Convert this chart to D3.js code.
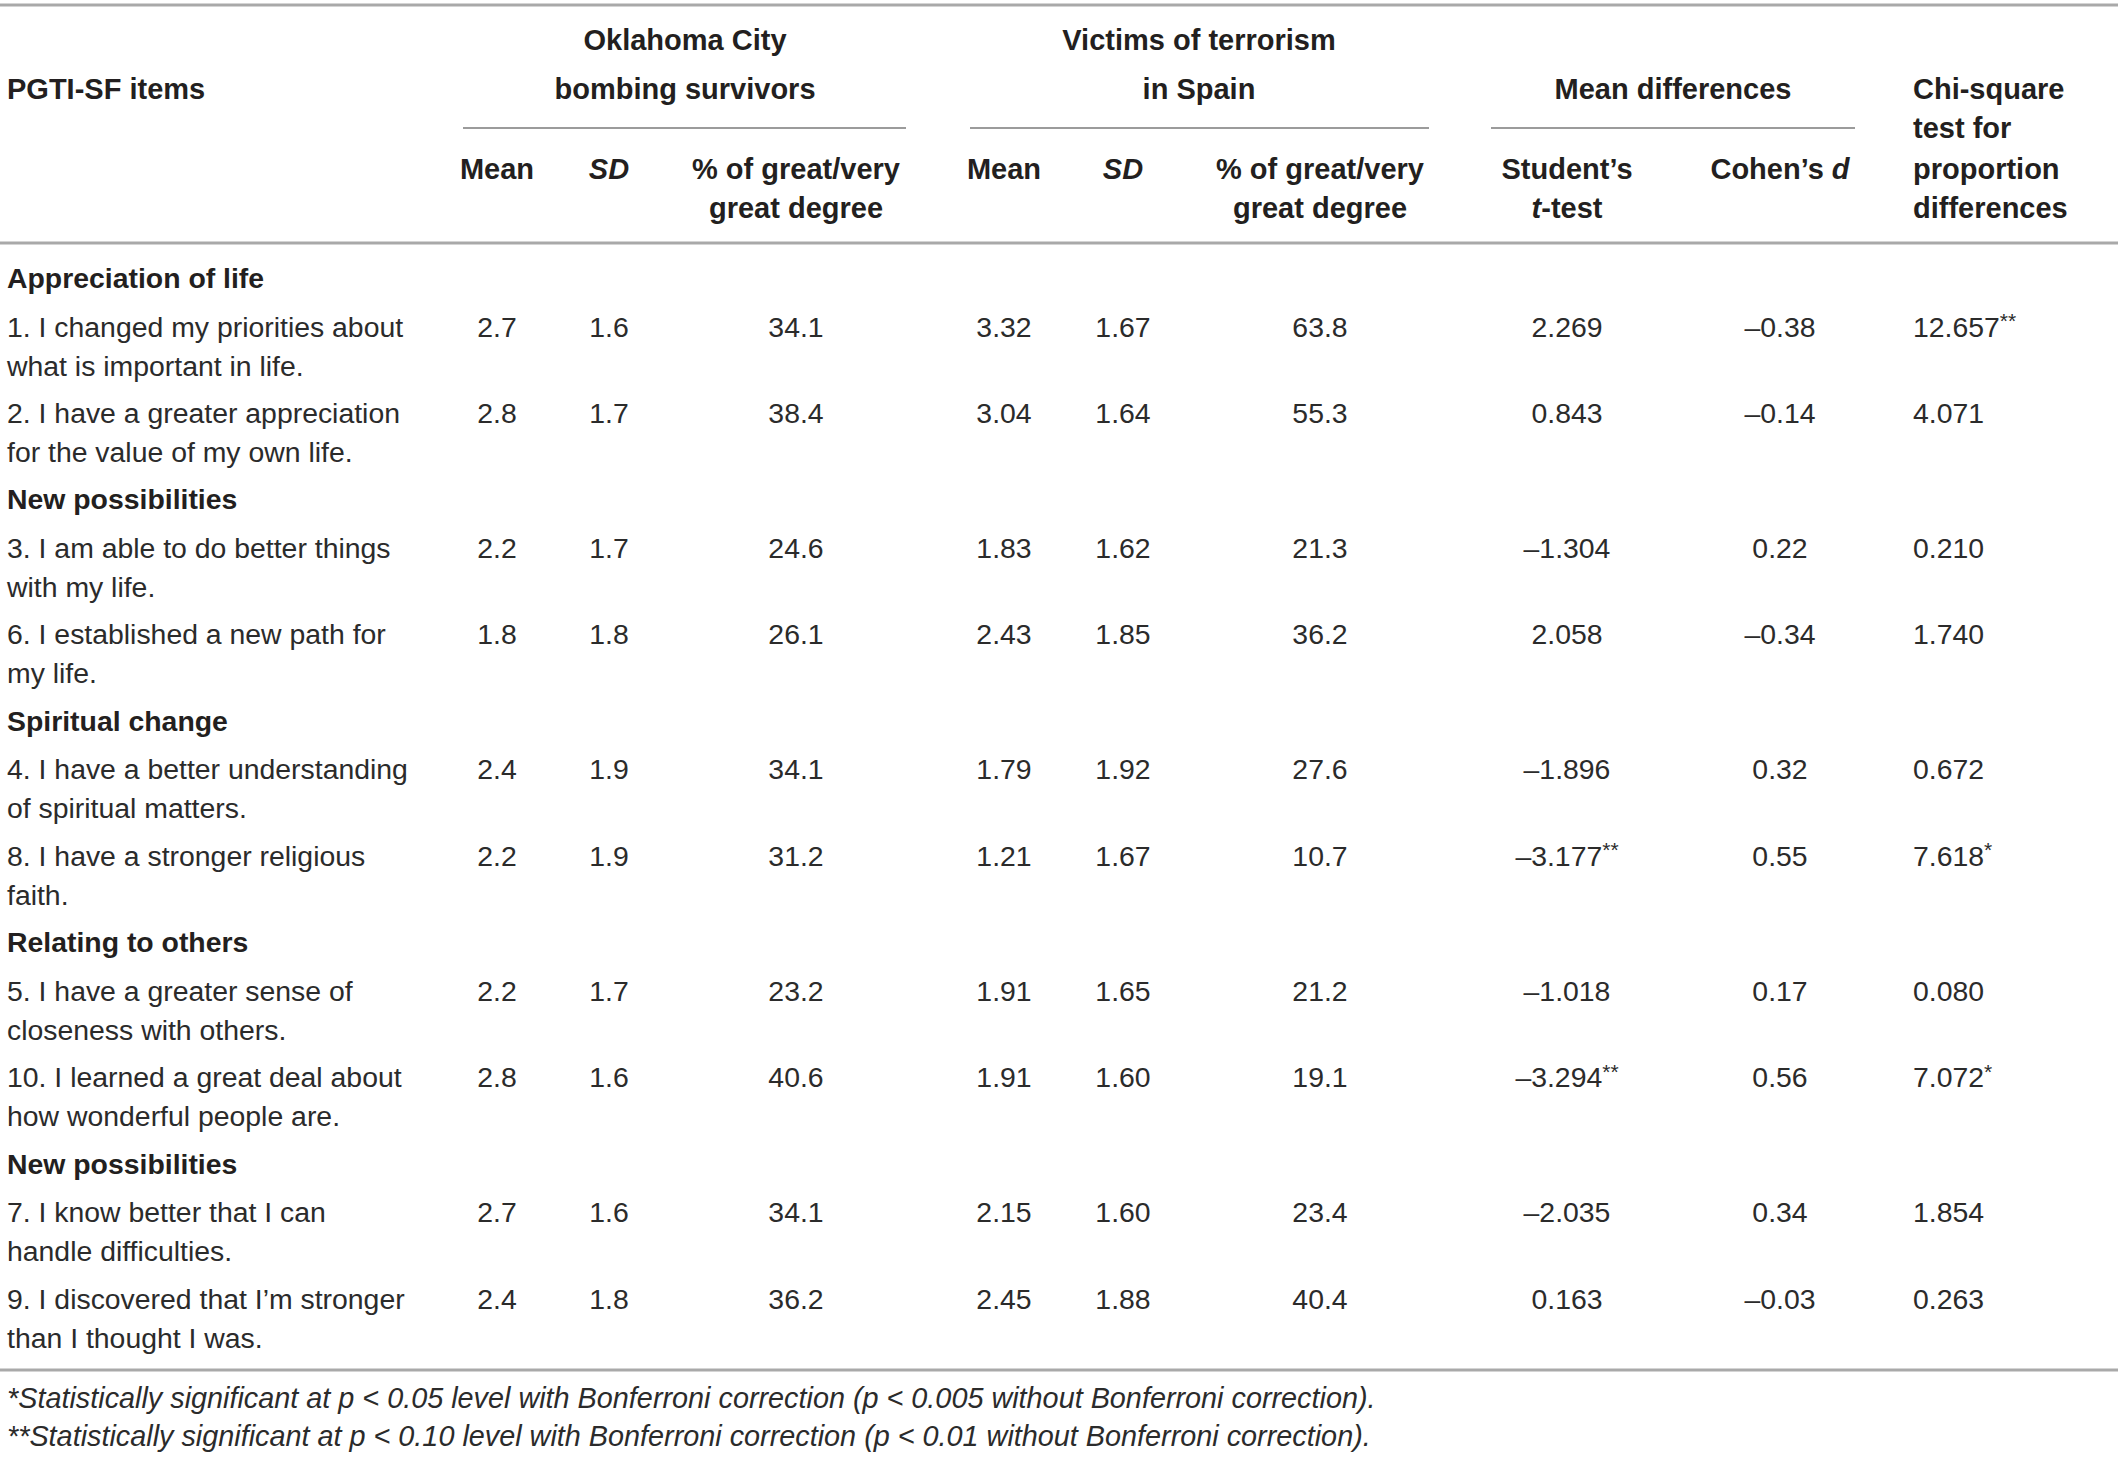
<!DOCTYPE html>
<html>
<head>
<meta charset="utf-8">
<script src="https://cdn.jsdelivr.net/npm/d3@7.9.0/dist/d3.min.js"></script>
<style>
  html, body { margin: 0; padding: 0; background: #fff; }
  svg { display: block; }
  text { font-family: "Liberation Sans", Arial, sans-serif; fill: #2b2b2b; }
  .hd { font-weight: 700; fill: #231f20; }
</style>
</head>
<body>
<div id="chart"></div>
<script>
// Table values
const groups = ["Appreciation of life", "New possibilities", "Spiritual change", "Relating to others", "New possibilities"];
const itemGroup = [0, 0, 1, 1, 2, 2, 3, 3, 4, 4];
const itemLabels = [
  ["1. I changed my priorities about", "what is important in life."],
  ["2. I have a greater appreciation", "for the value of my own life."],
  ["3. I am able to do better things", "with my life."],
  ["6. I established a new path for", "my life."],
  ["4. I have a better understanding", "of spiritual matters."],
  ["8. I have a stronger religious", "faith."],
  ["5. I have a greater sense of", "closeness with others."],
  ["10. I learned a great deal about", "how wonderful people are."],
  ["7. I know better that I can", "handle difficulties."],
  ["9. I discovered that I\u2019m stronger", "than I thought I was."]
];
const okMean = [2.7, 2.8, 2.2, 1.8, 2.4, 2.2, 2.2, 2.8, 2.7, 2.4];
const okSD = [1.6, 1.7, 1.7, 1.8, 1.9, 1.9, 1.7, 1.6, 1.6, 1.8];
const okPct = [34.1, 38.4, 24.6, 26.1, 34.1, 31.2, 23.2, 40.6, 34.1, 36.2];
const vMean = [3.32, 3.04, 1.83, 2.43, 1.79, 1.21, 1.91, 1.91, 2.15, 2.45];
const vSD = [1.67, 1.64, 1.62, 1.85, 1.92, 1.67, 1.65, 1.60, 1.60, 1.88];
const vPct = [63.8, 55.3, 21.3, 36.2, 27.6, 10.7, 21.2, 19.1, 23.4, 40.4];
const tTest = [2.269, 0.843, -1.304, 2.058, -1.896, -3.177, -1.018, -3.294, -2.035, 0.163];
const tSig = ["", "", "", "", "", "**", "", "**", "", ""];
const cohenD = [-0.38, -0.14, 0.22, -0.34, 0.32, 0.55, 0.17, 0.56, 0.34, -0.03];
const chiSq = [12.657, 4.071, 0.210, 1.740, 0.672, 7.618, 0.080, 7.072, 1.854, 0.263];
const chiSig = ["**", "", "", "", "", "*", "", "*", "", ""];
const footnotes = [
  "*Statistically significant at p < 0.05 level with Bonferroni correction (p < 0.005 without Bonferroni correction).",
  "**Statistically significant at p < 0.10 level with Bonferroni correction (p < 0.01 without Bonferroni correction)."
];

const W = 2118, H = 1458;
const FS = 28.4;   // body
const HFS = 29;    // headers

const svg = d3.select("#chart").append("svg")
  .attr("width", W).attr("height", H);

// column positions
const colKeys = ["label", "okMean", "okSD", "okPct", "vMean", "vSD", "vPct", "t", "d", "chi"];
const colX = d3.scaleOrdinal()
  .domain(colKeys)
  .range([7, 497, 609, 796, 1004, 1123, 1320, 1567, 1780, 1913]);

// number formats, en dash for minus
const fmt = (spec) => (v) => d3.format(spec)(v).replace("\u2212", "\u2013").replace("-", "\u2013");

// rules
function rule(x1, x2, y, color, w) {
  svg.append("line")
    .attr("x1", x1).attr("x2", x2).attr("y1", y).attr("y2", y)
    .attr("stroke", color).attr("stroke-width", w);
}
rule(0, W, 5, "#a9a9a9", 3);
rule(0, W, 243, "#a9a9a9", 3);
rule(0, W, 1370, "#a9a9a9", 3);
rule(463, 906, 128, "#7a7a7a", 1.5);
rule(970, 1429, 128, "#7a7a7a", 1.5);
rule(1491, 1855, 128, "#7a7a7a", 1.5);

// header text helper: parts = [[text, italic], ...]
function header(x, y, parts, anchor) {
  const t = svg.append("text").attr("class", "hd")
    .attr("x", x).attr("y", y).attr("dy", "0.35em")
    .attr("font-size", HFS).attr("text-anchor", anchor || "middle");
  parts.forEach(([s, it]) => t.append("tspan").attr("font-style", it ? "italic" : "normal").text(s));
}
header(colX("label"), 89, [["PGTI-SF items"]], "start");
header(685, 40, [["Oklahoma City"]]);
header(685, 89, [["bombing survivors"]]);
header(1199, 40, [["Victims of terrorism"]]);
header(1199, 89, [["in Spain"]]);
header(1673, 89, [["Mean differences"]]);
["Chi-square", "test for", "proportion", "differences"].forEach((s, i) =>
  header(colX("chi"), [89, 128, 169, 208][i], [[s]], "start"));
[["okMean", "okSD", "okPct"], ["vMean", "vSD", "vPct"]].forEach(([m, s, p]) => {
  header(colX(m), 169, [["Mean"]]);
  header(colX(s), 169, [["SD", true]]);
  header(colX(p), 169, [["% of great/very"]]);
  header(colX(p), 208, [["great degree"]]);
});
header(colX("t"), 169, [["Student\u2019s"]]);
header(colX("t"), 208, [["t", true], ["-test"]]);
header(colX("d"), 169, [["Cohen\u2019s "], ["d", true]]);

// row layout: group header takes 36 units, item takes 64 units
const rows = [];
let unit = 0;
itemGroup.forEach((g, i) => {
  if (i === 0 || itemGroup[i - 1] !== g) {
    rows.push({ type: "group", g, u: unit });
    unit += 36;
  }
  rows.push({ type: "item", i, u: unit });
  unit += 64;
});
const y = d3.scaleLinear().domain([0, 1]).range([278, 278 + 1.35]);

const grp = svg.append("g").attr("font-size", FS);

rows.filter((r) => r.type === "group").forEach((r) => {
  grp.append("text").attr("class", "hd")
    .attr("x", colX("label")).attr("y", y(r.u)).attr("dy", "0.35em")
    .text(groups[r.g]);
});

const items = rows.filter((r) => r.type === "item");
const lineGap = 29 * 1.35;

items.forEach((r) => {
  const i = r.i;
  const yy = y(r.u);
  itemLabels[i].forEach((s, k) => {
    grp.append("text").attr("x", colX("label")).attr("y", yy + k * lineGap)
      .attr("dy", "0.35em").text(s);
  });
  const cells = [
    ["okMean", fmt(".1f")(okMean[i]), ""],
    ["okSD", fmt(".1f")(okSD[i]), ""],
    ["okPct", fmt(".1f")(okPct[i]), ""],
    ["vMean", fmt(".2f")(vMean[i]), ""],
    ["vSD", fmt(".2f")(vSD[i]), ""],
    ["vPct", fmt(".1f")(vPct[i]), ""],
    ["t", fmt(".3f")(tTest[i]), tSig[i]],
    ["d", fmt(".2f")(cohenD[i]), ""],
    ["chi", fmt(".3f")(chiSq[i]), chiSig[i]]
  ];
  cells.forEach(([k, s, sig]) => {
    const t = grp.append("text")
      .attr("x", colX(k)).attr("y", yy).attr("dy", "0.35em")
      .attr("text-anchor", k === "chi" ? "start" : "middle");
    t.append("tspan").text(s);
    if (sig) {
      t.append("tspan").attr("font-size", 21).attr("dy", "-0.4em").text(sig);
    }
  });
});

// footnotes
footnotes.forEach((s, i) => {
  svg.append("text")
    .attr("x", colX("label")).attr("y", [1398, 1436][i]).attr("dy", "0.35em")
    .attr("font-size", 28.8).attr("font-style", "italic")
    .text(s);
});
</script>
</body>
</html>
